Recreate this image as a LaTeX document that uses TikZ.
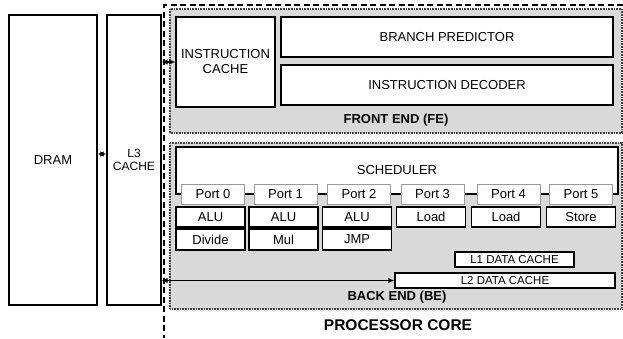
\documentclass[tikz,border=0pt]{standalone}
\usepackage{fontspec}
\setmainfont{Liberation Sans}
\usetikzlibrary{arrows.meta}
\definecolor{regiongray}{HTML}{D9D9D9}
\definecolor{portgray}{HTML}{9A9A9A}
\begin{document}
\begin{tikzpicture}[x=1pt,y=-1pt,
  font=\fontsize{13}{15}\selectfont,
  box/.style={draw=black, line width=1.3pt, fill=white, inner sep=0pt, align=center},
  portbox/.style={draw=portgray, line width=0.8pt, fill=white, inner sep=0pt, minimum width=63pt, minimum height=20pt},
  unitbox/.style={box, minimum width=69pt},
  region/.style={draw=black!75, dash pattern=on 0.8pt off 0.8pt, line width=1.2pt, fill=regiongray},
  core/.style={draw=black, dash pattern=on 6pt off 3.5pt, line width=1.2pt},
  lbl/.style={font=\fontsize{13}{15}\selectfont\bfseries, inner sep=0pt},
  arr/.style={{Latex[length=6pt,width=5.5pt]}-{Latex[length=6pt,width=5.5pt]}, line width=1.1pt},
  small/.style={font=\fontsize{11.5}{13}\selectfont}
]
\useasboundingbox (0,0) rectangle (623,338);
% processor core boundary
\draw[core] (623,5) -- (164,5) -- (164,338);
% regions
\draw[region] (170,9) rectangle (622,133);
\draw[region] (170,143) rectangle (622,309);
% memory
\node[box, minimum width=88pt, minimum height=290pt] (dram) at (53,160) {DRAM};
\node[box, minimum width=54pt, minimum height=290pt, font=\fontsize{12}{13.5}\selectfont] (l3) at (134,160) {L3\\CACHE};
% front end
\node[box, minimum width=99pt, minimum height=90pt] (ic) at (225.5,62) {INSTRUCTION\\CACHE};
\node[box, minimum width=332pt, minimum height=40pt] (bp) at (447,37) {BRANCH PREDICTOR};
\node[box, minimum width=332pt, minimum height=40pt] (id) at (447,85) {INSTRUCTION DECODER};
\node[lbl] (fe) at (396,120) {FRONT END (FE)};
% back end
\node[box, minimum width=442pt, minimum height=47pt] (sched) at (397,170.5) {SCHEDULER};
\node[portbox] (p0) at (213,194) {Port 0};
\node[portbox] (p1) at (285.5,194) {Port 1};
\node[portbox] (p2) at (359,194) {Port 2};
\node[portbox] (p3) at (432.5,194) {Port 3};
\node[portbox] (p4) at (508.5,194) {Port 4};
\node[portbox] (p5) at (581,194) {Port 5};
\node[unitbox, minimum height=20pt] (alu0) at (210.5,217) {ALU};
\node[unitbox, minimum height=20pt] (alu1) at (283.5,217) {ALU};
\node[unitbox, minimum height=20pt] (alu2) at (357,217) {ALU};
\node[unitbox, minimum height=20pt] (load3) at (431,217) {Load};
\node[unitbox, minimum height=20pt] (load4) at (506,217) {Load};
\node[unitbox, minimum height=20pt] (store5) at (581,217) {Store};
\node[unitbox, minimum height=21pt] (div) at (210.5,239.5) {Divide};
\node[unitbox, minimum height=21pt] (mul) at (283.5,239.5) {Mul};
\node[unitbox, minimum height=21pt] (jmp) at (357,239.5) {JMP};
\node[box, small, minimum width=119pt, minimum height=15pt] (l1) at (514.5,259.5) {L1 DATA CACHE};
\node[box, small, minimum width=220pt, minimum height=15pt] (l2) at (505,280.5) {L2 DATA CACHE};
\node[lbl] (be) at (397,297) {BACK END (BE)};
\node[lbl, font=\fontsize{15.5}{18}\selectfont\bfseries] (pc) at (398,325) {PROCESSOR CORE};
% connectors
\draw[arr] (dram.east |- 0,154) -- (l3.west |- 0,154);
\draw[arr] (l3.east |- ic.west) -- (ic.west);
\draw[arr] (l3.east |- l2.west) -- (l2.west);
\end{tikzpicture}
\end{document}
